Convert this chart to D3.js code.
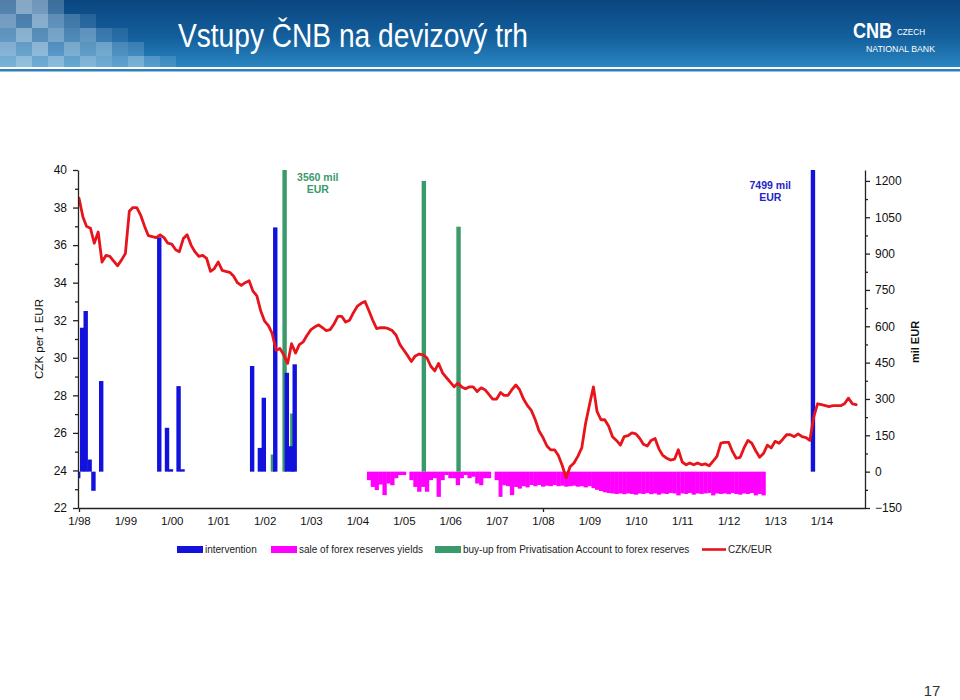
<!DOCTYPE html>
<html><head><meta charset="utf-8">
<script src="https://cdn.jsdelivr.net/npm/d3@7"></script>
<style>body{margin:0;background:#fff}svg{display:block}</style>
</head><body>
<svg id="c" width="960" height="700"></svg>
<script>
// ---------------- DATA ----------------
const czkStart = "1998-01";
const czkEur = [
 38.5,37.5,37.0,36.9,36.1,36.7,35.1,35.45,35.4,35.15,34.9,35.2,
 35.55,37.8,38.0,38.0,37.6,37.0,36.5,36.45,36.4,36.55,36.4,36.1,
 36.05,35.75,35.65,36.35,36.55,36.0,35.65,35.4,35.45,35.3,34.6,34.75,
 35.1,34.65,34.6,34.55,34.35,34.0,33.85,34.0,34.1,33.55,33.3,32.5,
 31.95,31.7,31.3,30.4,30.5,30.15,29.7,30.75,30.25,30.7,30.85,31.2,
 31.5,31.65,31.75,31.6,31.45,31.5,31.8,32.2,32.2,31.9,32.0,32.4,
 32.75,32.9,33.0,32.5,32.0,31.55,31.6,31.6,31.55,31.45,31.2,30.7,
 30.4,30.1,29.8,30.1,30.2,30.15,30.0,29.55,29.3,29.7,29.2,28.95,
 28.7,28.45,28.65,28.45,28.35,28.45,28.45,28.2,28.4,28.3,28.05,27.8,
 27.8,28.15,28.0,28.0,28.3,28.55,28.3,27.8,27.45,27.2,26.7,26.1,
 25.75,25.3,25.1,25.1,24.8,24.25,23.6,24.2,24.4,24.75,25.2,26.5,
 27.5,28.45,27.15,26.7,26.7,26.35,25.8,25.6,25.35,25.8,25.85,26.0,
 25.95,25.7,25.4,25.3,25.6,25.7,25.15,24.8,24.65,24.55,24.6,25.1,
 24.45,24.3,24.4,24.3,24.4,24.3,24.35,24.25,24.5,24.75,25.45,25.5,
 25.5,25.0,24.65,24.7,25.2,25.6,25.45,25.05,24.7,24.9,25.35,25.2,
 25.55,25.45,25.65,25.9,25.9,25.8,25.95,25.8,25.75,25.6,26.85,27.55,
 27.5,27.45,27.4,27.45,27.45,27.45,27.55,27.85,27.55,27.5
];
const interventionDates = ["1998-01","1998-02","1998-03","1998-04","1998-05","1998-07",
 "1999-10","1999-12","2000-01","2000-03","2000-04","2001-10","2001-12","2002-01",
 "2002-04","2002-07","2002-08","2002-09","2013-11"];
const interventionValues = [-27,594,663,50,-79,374,967,181,10,353,10,436,98,305,1008,408,105,443,7499];
const buyupDates = ["2002-03","2002-06","2002-08","2005-06","2006-03"];
const buyupValues = [71,3560,240,1200,1011];
const yieldStart = "2004-04";
const yieldValues = [
 -35,-63,-76,-53,-97,-49,-56,-27,-14,-14,
 0,
 -35,-63,-83,-63,-83,-35,-27,-104,-35,-14,-27,-27,-56,-27,-14,-27,-21,-49,-56,-27,-27,
 0,
 -35,-104,-56,-60,-97,-63,-70,-60,-65,-55,-60,-55,
 -62,-58,-60,-55,-60,-58,-62,-60,-58,-62,-60,-65,
 -60,-68,-75,-80,-85,-88,-90,-92,-90,-93,-90,-92,
 -95,-90,-92,-88,-93,-90,-95,-90,-92,-88,-90,-98,
 -90,-92,-88,-95,-90,-92,-90,-88,-98,-90,-92,-90,
 -93,-88,-92,-95,-90,-92,-88,-98,-92,-98
];
const yearLabels = ["1/98","1/99","1/00","1/01","1/02","1/03","1/04","1/05","1/06","1/07","1/08","1/09","1/10","1/11","1/12","1/13","1/14"];
const leftTicks = [22,24,26,28,30,32,34,36,38,40];
const leftMinor = [23,25,27,29,31,33,35,37,39];
const rightTicks = [-150,0,150,300,450,600,750,900,1050,1200];
const rightMinor = [-75,75,225,375,525,675,825,975,1125];
const legendLabels = ["intervention","sale of forex reserves yields","buy-up from Privatisation Account to forex reserves","CZK/EUR"];
const annotations = [{date:"2002-06", text:["3560 mil","EUR"]},{date:"2013-11", text:["7499 mil","EUR"]}];
const titleText = "Vstupy ČNB na devizový trh";
const pageNumber = "17";

// ---------------- COLOURS ----------------
const cBlue = "#1212dc", cPink = "#ff00ff", cGreen = "#3a9a6c", cRed = "#e8141c";
const FONT = "Arial, 'Liberation Sans', sans-serif";

const pm = s => { const [y,m] = s.split("-").map(Number); return new Date(y, m-1, 1); };
const svg = d3.select("#c");

// ---------------- HEADER ----------------
const defs = svg.append("defs");
const g1 = defs.append("linearGradient").attr("id","hdr").attr("x1",0).attr("y1",0).attr("x2",0).attr("y2",1);
g1.append("stop").attr("offset","0%").attr("stop-color","#0a4680");
g1.append("stop").attr("offset","55%").attr("stop-color","#135f9c");
g1.append("stop").attr("offset","100%").attr("stop-color","#2a86c1");
svg.append("rect").attr("x",0).attr("y",0).attr("width",960).attr("height",67).attr("fill","url(#hdr)");
const mosaic = [
 [0.35,0.6,0.5,0.25],
 [0.5,0.3,0.6,0.4,0.25,0.12],
 [0.4,0.6,0.35,0.5,0.3,0.4,0.2,0.1],
 [0.55,0.4,0.6,0.3,0.5,0.35,0.45,0.25,0.18],
 [0.45,0.6,0.4,0.55,0.35,0.5,0.4,0.3,0.45,0.25,0.15]
];
mosaic.forEach((row,ri)=>row.forEach((o,ci)=>{
  svg.append("rect").attr("x",ci*16).attr("y",ri*14).attr("width",16)
    .attr("height",Math.min(14,67-ri*14)).attr("fill","#d8e8f4").attr("opacity",o);
}));
svg.append("rect").attr("x",0).attr("y",69).attr("width",960).attr("height",2.5).attr("fill","#2f7fbf");
svg.append("text").attr("x",178).attr("y",47).attr("fill","#fff")
  .attr("font-family",FONT).attr("font-size",34)
  .attr("textLength",350).attr("lengthAdjust","spacingAndGlyphs").text(titleText);
// logo
svg.append("text").attr("transform","translate(853,38) scale(0.82,1)").attr("fill","#fff").attr("font-family",FONT)
  .attr("font-size",22).attr("font-weight","bold").text("CNB");
svg.append("text").attr("x",897).attr("y",35).attr("fill","#fff").attr("font-family",FONT)
  .attr("font-size",9).attr("textLength",28).attr("lengthAdjust","spacingAndGlyphs").text("CZECH");
svg.append("text").attr("x",866).attr("y",52).attr("fill","#fff").attr("font-family",FONT)
  .attr("font-size",9).attr("textLength",69).attr("lengthAdjust","spacingAndGlyphs").text("NATIONAL BANK");

// ---------------- SCALES ----------------
const xBase = d3.scaleTime().domain([new Date(1998,0,1), new Date(2014,0,1)]).range([79, 821.5]);
const x = d3.scaleTime().domain([xBase.invert(78), xBase.invert(865)]).range([78, 865]);
const yL = d3.scaleLinear().domain([22,40]).range([508,170]);
const yR = d3.scaleLinear().domain([-150,1245]).range([508,170]);

defs.append("clipPath").attr("id","plot").append("rect").attr("x",78).attr("y",170).attr("width",787).attr("height",338);
const plot = svg.append("g").attr("clip-path","url(#plot)");

// ---------------- BARS ----------------
const bw = 4.4;
const yields = yieldValues.map((v,i)=>({date:d3.timeMonth.offset(pm(yieldStart),i), v}));
plot.append("g").selectAll("rect").data(yields.filter(d=>d.v!==0)).join("rect")
  .attr("x",d=>x(d.date)-2).attr("width",d=>x(d3.timeMonth.offset(d.date,1))-x(d.date)+0.4)
  .attr("y",yR(0)).attr("height",d=>yR(d.v)-yR(0)).attr("fill",cPink);

const buy = buyupDates.map((s,i)=>({date:pm(s), v:buyupValues[i]}));
plot.append("g").selectAll("rect").data(buy).join("rect")
  .attr("x",d=>x(d.date)-bw/2+0.8).attr("width",bw)
  .attr("y",d=>yR(Math.max(0,d.v))).attr("height",d=>Math.abs(yR(d.v)-yR(0)))
  .attr("fill",cGreen);

const interv = interventionDates.map((s,i)=>({date:pm(s), v:interventionValues[i]}));
plot.append("g").selectAll("rect").data(interv).join("rect")
  .attr("x",d=>x(d.date)-bw/2-0.8).attr("width",bw)
  .attr("y",d=>yR(Math.max(0,d.v))).attr("height",d=>Math.max(1.5,Math.abs(yR(d.v)-yR(0))))
  .attr("fill",cBlue);

// ---------------- LINE ----------------
const czk = czkEur.map((v,i)=>({date:d3.timeMonth.offset(pm(czkStart),i), v}));
plot.append("path").datum(czk)
  .attr("d", d3.line().x(d=>x(d.date)).y(d=>yL(d.v)))
  .attr("fill","none").attr("stroke",cRed).attr("stroke-width",2.8)
  .attr("stroke-linejoin","round").attr("stroke-linecap","round");

// ---------------- AXES ----------------
function styleAxis(g){
  g.selectAll("path,line").attr("stroke","#222").attr("stroke-width",1.3);
  g.selectAll("text").attr("font-family",FONT).attr("fill","#111");
}
// left
const gl = svg.append("g").attr("transform","translate(78,0)")
  .call(d3.axisLeft(yL).tickValues(leftTicks).tickSize(5).tickSizeOuter(0).tickPadding(6).tickFormat(d3.format("d")));
gl.selectAll("text").attr("font-size",12);
styleAxis(gl);
const glm = svg.append("g").attr("transform","translate(78,0)")
  .call(d3.axisLeft(yL).tickValues(leftMinor).tickSize(3).tickSizeOuter(0).tickFormat(""));
glm.select(".domain").remove(); styleAxis(glm);
// right
const gr = svg.append("g").attr("transform","translate(865,0)")
  .call(d3.axisRight(yR).tickValues(rightTicks).tickSize(5).tickSizeOuter(0).tickPadding(5).tickFormat(d3.format("d")));
gr.selectAll("text").attr("font-size",12);
styleAxis(gr);
const grm = svg.append("g").attr("transform","translate(865,0)")
  .call(d3.axisRight(yR).tickValues(rightMinor).tickSize(3).tickSizeOuter(0).tickFormat(""));
grm.select(".domain").remove(); styleAxis(grm);
// bottom
const years = yearLabels.map((l,i)=>new Date(1998+i,0,1));
const gb = svg.append("g").attr("transform","translate(0,508)")
  .call(d3.axisBottom(x).tickValues(years).tickSize(0).tickSizeOuter(0).tickPadding(9)
    .tickFormat((d,i)=>yearLabels[i]));
gb.selectAll("text").attr("font-size",11.5);
styleAxis(gb);
const gbt = svg.append("g").attr("transform","translate(0,508)")
  .call(d3.axisBottom(x).tickValues([new Date(1998,0,1), new Date(2008,0,1)]).tickSize(4).tickSizeOuter(0).tickFormat(""));
gbt.select(".domain").remove(); styleAxis(gbt);

// axis titles
svg.append("text").attr("transform","translate(43,339) rotate(-90)").attr("text-anchor","middle")
  .attr("font-family",FONT).attr("font-size",11.5).attr("fill","#111").text("CZK per 1 EUR");
svg.append("text").attr("transform","translate(919,342) rotate(-90)").attr("text-anchor","middle")
  .attr("font-family",FONT).attr("font-size",11).attr("font-weight","bold").attr("fill","#111").text("mil EUR");

// annotations
const annCol = [cGreen, "#2424c8"], annDx = [34, -43.5], annY = [181, 189];
annotations.forEach((a,i)=>{
  const t = svg.append("text").attr("text-anchor","middle").attr("font-family",FONT)
    .attr("font-size",10.5).attr("font-weight","bold").attr("fill",annCol[i]);
  a.text.forEach((s,j)=>t.append("tspan").attr("x",x(pm(a.date))+annDx[i]).attr("y",annY[i]+j*12).text(s));
});

// ---------------- LEGEND ----------------
const legCols = [cBlue,cPink,cGreen,cRed];
const legX = [177,271,435,702];
legendLabels.forEach((l,i)=>{
  if(i<3) svg.append("rect").attr("x",legX[i]).attr("y",546).attr("width",26).attr("height",7).attr("fill",legCols[i]);
  else svg.append("line").attr("x1",legX[i]).attr("x2",legX[i]+24).attr("y1",549.5).attr("y2",549.5)
        .attr("stroke",cRed).attr("stroke-width",2.6);
  svg.append("text").attr("x",legX[i]+(i<3?28:26)).attr("y",553).attr("font-family",FONT)
    .attr("font-size",10).attr("fill","#222").text(l);
});

// page number
svg.append("text").attr("x",932).attr("y",696).attr("text-anchor","middle").attr("font-family",FONT)
  .attr("font-size",15).attr("fill","#333").text(pageNumber);
</script>
</body></html>
